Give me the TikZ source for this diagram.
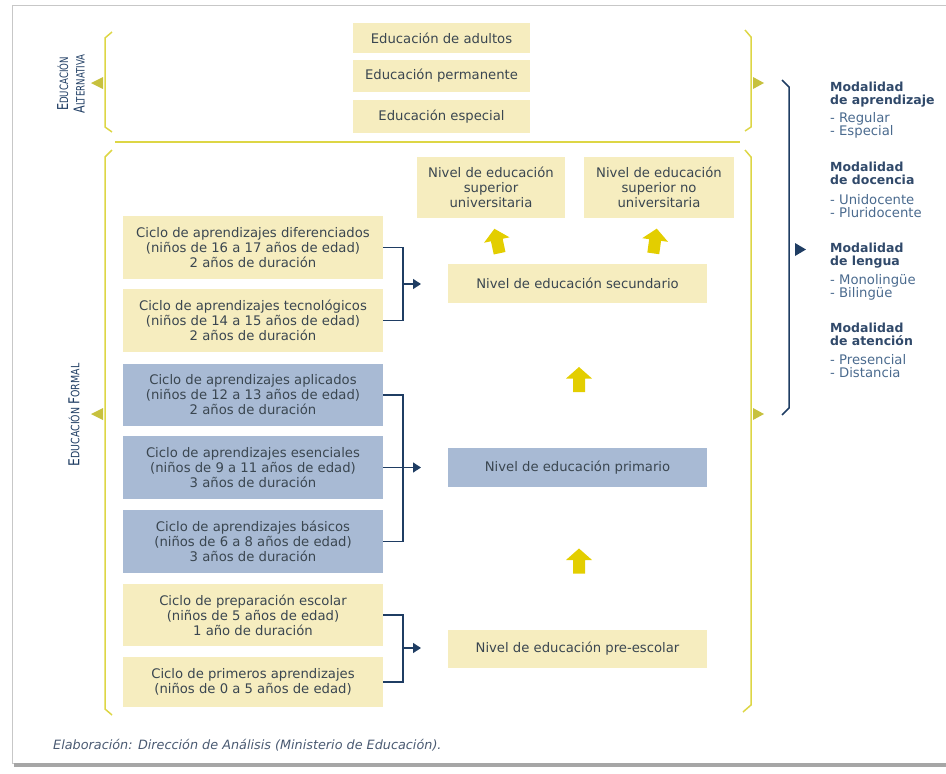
\documentclass[tikz,border=0pt]{standalone}
\usepackage{fontspec}
\setmainfont{DejaVu Sans}
\usetikzlibrary{arrows.meta}
\definecolor{boxy}{HTML}{F6EDBF}
\definecolor{boxb}{HTML}{A8BAD4}
\definecolor{liney}{HTML}{DDD645}
\definecolor{arry}{HTML}{E3CE00}
\definecolor{navy}{HTML}{1F3D63}
\definecolor{txt}{HTML}{3A4650}
\definecolor{modt}{HTML}{30496A}
\definecolor{modi}{HTML}{4A6A8E}
\definecolor{foot}{HTML}{4A5A72}
\newcommand\mysc[2]{{\fontsize{15}{15}\selectfont #1}{\fontsize{11.5}{15}\selectfont #2}}
\tikzset{
  ybox/.style={fill=boxy, inner sep=0pt, align=center, text=txt, font=\fontsize{13.2}{15}\selectfont},
  bbox/.style={ybox, fill=boxb},
  link/.style={navy, line width=1.3pt},
  brk/.style={liney, line width=1.5pt},
  ltri/.style={fill=liney!90!black},
  modtitle/.style={anchor=base west, inner sep=0pt, align=left, text=modt, font=\bfseries\fontsize{12.5}{13}\selectfont},
  moditem/.style={anchor=base west, inner sep=0pt, align=left, text=modi, font=\fontsize{13.2}{13}\selectfont},
  vlab/.style={rotate=90, align=center, inner sep=0pt, text=navy, font=\fontsize{11.5}{16.5}\selectfont},
  uparr/.pic={\fill[arry] (0,-12.5) -- (13,-1) -- (6,-1) -- (6,12.5) -- (-6,12.5) -- (-6,-1) -- (-13,-1) -- cycle;}
}
\begin{document}
\begin{tikzpicture}[x=1pt,y=-1pt]
\useasboundingbox (0,0) rectangle (946,774);
% frame
\draw[black!22, line width=1pt] (12,5) rectangle (952,763);
\fill[black!35] (14,763) rectangle (946,767);
% top alternative boxes
\node[ybox, minimum width=177pt, minimum height=30pt] (ea) at (441.5,38) {Educación de adultos};
\node[ybox, minimum width=177pt, minimum height=32pt] (ep) at (441.5,76) {Educación permanente};
\node[ybox, minimum width=177pt, minimum height=33pt] (ee) at (441.5,116.5) {Educación especial};
% brackets
\draw[brk] (112,32) -- (105,38) -- (105,127) -- (112,132);
\draw[brk] (745,30) -- (751,37) -- (751,127) -- (745,131);
\draw[brk] (115,142) -- (740,142);
\draw[brk] (112,150) -- (105,157) -- (105,709) -- (112,715);
\draw[brk] (745,150) -- (751,157) -- (751,705) -- (743,712);
% triangles
\fill[ltri] (91,83) -- (103,77) -- (103,89) -- cycle;
\fill[ltri] (91,414) -- (103,408) -- (103,420) -- cycle;
\fill[ltri] (764,83) -- (753,77) -- (753,89) -- cycle;
\fill[ltri] (764,414) -- (753,408) -- (753,420) -- cycle;
% vertical labels
\node[vlab] (lalt) at (71,84) {\scalebox{0.75}[1]{\mysc{E}{DUCACIÓN}}\\\scalebox{0.75}[1]{\mysc{A}{LTERNATIVA}}};
\node[vlab] (lfor) at (74,415) {\scalebox{0.82}[1]{\mysc{E}{DUCACIÓN} \mysc{F}{ORMAL}}};
% left cycle boxes
\node[ybox, minimum width=260pt, minimum height=63pt] (dif) at (253,247.5) {Ciclo de aprendizajes diferenciados\\(niños de 16 a 17 años de edad)\\2 años de duración};
\node[ybox, minimum width=260pt, minimum height=63pt] (tec) at (253,320.5) {Ciclo de aprendizajes tecnológicos\\(niños de 14 a 15 años de edad)\\2 años de duración};
\node[bbox, minimum width=260pt, minimum height=62pt] (apl) at (253,395) {Ciclo de aprendizajes aplicados\\(niños de 12 a 13 años de edad)\\2 años de duración};
\node[bbox, minimum width=260pt, minimum height=63pt] (ese) at (253,467.5) {Ciclo de aprendizajes esenciales\\(niños de 9 a 11 años de edad)\\3 años de duración};
\node[bbox, minimum width=260pt, minimum height=63pt] (bas) at (253,541.5) {Ciclo de aprendizajes básicos\\(niños de 6 a 8 años de edad)\\3 años de duración};
\node[ybox, minimum width=260pt, minimum height=62pt] (pre) at (253,615) {Ciclo de preparación escolar\\(niños de 5 años de edad)\\1 año de duración};
\node[ybox, minimum width=260pt, minimum height=50pt] (pri) at (253,682) {Ciclo de primeros aprendizajes\\(niños de 0 a 5 años de edad)};
% level boxes
\node[ybox, minimum width=148pt, minimum height=61pt] (univ) at (491,187.5) {Nivel de educación\\superior\\universitaria};
\node[ybox, minimum width=150pt, minimum height=61pt] (nouniv) at (659,187.5) {Nivel de educación\\superior no\\universitaria};
\node[ybox, minimum width=259pt, minimum height=39pt] (sec) at (577.5,283.5) {Nivel de educación secundario};
\node[bbox, minimum width=259pt, minimum height=39pt] (prim) at (577.5,467.5) {Nivel de educación primario};
\node[ybox, minimum width=259pt, minimum height=38pt] (presc) at (577.5,649) {Nivel de educación pre-escolar};
% connectors
\coordinate (j1) at (403,284);
\coordinate (t1) at (421,284);
\coordinate (j2) at (403,467.5);
\coordinate (t2) at (421,467.5);
\coordinate (j3) at (403,648);
\coordinate (t3) at (421,648);
\draw[link] (dif.east) -| (j1) |- (tec.east);
\draw[link, -{Triangle[length=8pt,width=10pt]}] (j1) -- (t1);
\draw[link] (apl.east) -| (j2) |- (bas.east);
\draw[link] (ese.east) -- (j2);
\draw[link, -{Triangle[length=8pt,width=10pt]}] (j2) -- (t2);
\draw[link] (pre.east) -| (j3) |- (pri.east);
\draw[link, -{Triangle[length=8pt,width=10pt]}] (j3) -- (t3);
% block arrows
\pic at (579,379.5) {uparr};
\pic at (579,561) {uparr};
\pic[rotate=12] at (497,241) {uparr};
\pic[rotate=-8] at (655,241) {uparr};
% navy brace and modalities
\draw[navy, line width=1.5pt] (782,80) -- (789,87) -- (789,408) -- (782,415);
\fill[navy] (806,249.5) -- (795,243) -- (795,256) -- cycle;
\node[modtitle] (mt1) at (830,104) {Modalidad\\de aprendizaje};
\node[moditem] (mi1) at (830,135) {- Regular\\- Especial};
\node[modtitle] (mt2) at (830,184) {Modalidad\\de docencia};
\node[moditem] (mi2) at (830,217) {- Unidocente\\- Pluridocente};
\node[modtitle] (mt3) at (830,265) {Modalidad\\de lengua};
\node[moditem] (mi3) at (830,297) {- Monolingüe\\- Bilingüe};
\node[modtitle] (mt4) at (830,345) {Modalidad\\de atención};
\node[moditem] (mi4) at (830,377) {- Presencial\\- Distancia};
% footer
\node[anchor=base west, inner sep=0pt, text=foot, font=\itshape\fontsize{12.8}{13}\selectfont] (foot) at (53,749) {Elaboración: Dirección de Análisis (Ministerio de Educación).};
\end{tikzpicture}
\end{document}
